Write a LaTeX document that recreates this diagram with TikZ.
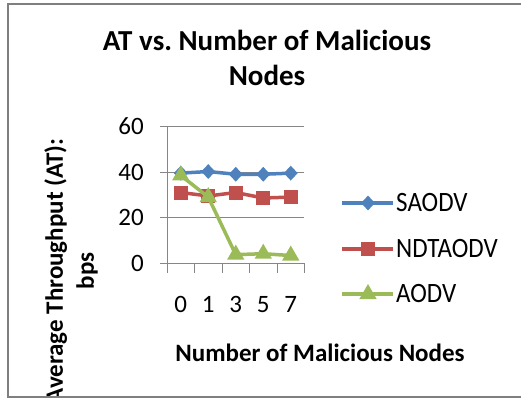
\documentclass[tikz,border=0pt]{standalone}
\usepackage{fontspec}
\setmainfont{Carlito}
\usetikzlibrary{shapes.geometric}
\definecolor{sblue}{HTML}{4F81BD}
\definecolor{nred}{HTML}{C0504D}
\definecolor{agreen}{HTML}{9BBB59}
\definecolor{gridgray}{HTML}{868686}
\definecolor{framegray}{HTML}{7F7F7F}
\frenchspacing
\begin{document}
\begin{tikzpicture}[x=1pt,y=-1pt,
  gridline/.style={draw=gridgray,line width=1pt},
  seriesline/.style={line width=3.5pt,line join=round},
  dmark/.style={diamond,fill=sblue,inner sep=0pt,minimum width=14pt,minimum height=15pt},
  smark/.style={rectangle,fill=nred,inner sep=0pt,minimum size=14pt},
  tmark/.style={regular polygon,regular polygon sides=3,fill=agreen,inner sep=0pt,minimum size=20pt},
  ticklbl/.style={font=\fontsize{25}{30}\selectfont,inner sep=0pt},
  titlefont/.style={font=\bfseries\fontsize{29}{35}\selectfont},
  axtitle/.style={font=\bfseries\fontsize{25}{31}\selectfont},
  legtext/.style={font=\fontsize{25}{30}\selectfont,inner sep=0pt,anchor=west,yscale=1.12}]
\useasboundingbox (0,0) rectangle (521,399);
\begin{scope}
\clip (8,4) rectangle (521,397);
% title
\node[titlefont,align=center] (title) at (267,57.5) {AT vs. Number of Malicious\\Nodes};
% gridlines and axes
\coordinate (g60l) at (160,126.3); \coordinate (g60r) at (304,126.3);
\coordinate (g40l) at (160,172.0); \coordinate (g40r) at (304,172.0);
\coordinate (g20l) at (160,217.6); \coordinate (g20r) at (304,217.6);
\coordinate (g0l) at (160,263.3); \coordinate (g0r) at (304,263.3);
\draw[gridline] (g60l) -- (g60r);
\draw[gridline] (g40l) -- (g40r);
\draw[gridline] (g20l) -- (g20r);
\draw[gridline] (g0l) -- (g0r);
\coordinate (axtop) at (167,126.3); \coordinate (axbot) at (167,263.3);
\draw[gridline] (axtop) -- (axbot);
\foreach \i/\x in {0/167,1/194.5,2/222,3/249.5,4/277,5/304} {
  \coordinate (xt\i a) at (\x,263.3); \coordinate (xt\i b) at (\x,273);
  \draw[gridline] (xt\i a) -- (xt\i b);
}
% tick labels
\node[ticklbl,anchor=east] (y60) at (144,126.3) {60};
\node[ticklbl,anchor=east] (y40) at (144,172.0) {40};
\node[ticklbl,anchor=east] (y20) at (144,217.6) {20};
\node[ticklbl,anchor=east] (y0) at (144,263.3) {0};
\node[ticklbl] (x0) at (180.75,304.5) {0};
\node[ticklbl] (x1) at (208.25,304.5) {1};
\node[ticklbl] (x3) at (235.75,304.5) {3};
\node[ticklbl] (x5) at (263.25,304.5) {5};
\node[ticklbl] (x7) at (290.75,304.5) {7};
% axis titles
\node[axtitle] (xtitle) at (320,353) {Number of Malicious Nodes};
\node[axtitle,align=center,rotate=90] (ytitle) at (71,271) {Average Throughput (AT):\\bps};
% data
\foreach \n/\x/\s/\r/\a in {1/180.75/39.5/31/38.5,2/208.25/40.2/29.5/29,3/235.75/39/31/3.8,4/263.25/39/28.6/4.2,5/290.75/39.5/29/3.4} {
  \coordinate (s\n) at (\x,{263.3-2.283*\s});
  \coordinate (r\n) at (\x,{263.3-2.283*\r});
  \coordinate (a\n) at (\x,{263.3-2.283*\a});
}
\draw[seriesline,sblue] (s1) -- (s2) -- (s3) -- (s4) -- (s5);
\foreach \n in {1,...,5} \node[dmark] (sm\n) at (s\n) {};
\draw[seriesline,nred] (r1) -- (r2) -- (r3) -- (r4) -- (r5);
\foreach \n in {1,...,5} \node[smark] (rm\n) at (r\n) {};
\draw[seriesline,agreen] (a1) -- (a2) -- (a3) -- (a4) -- (a5);
\foreach \n in {1,...,5} \node[tmark] (am\n) at (a\n) {};
% legend
\coordinate (l1a) at (342,203); \coordinate (l1b) at (393,203);
\coordinate (l2a) at (342,249); \coordinate (l2b) at (393,249);
\coordinate (l3a) at (342,294); \coordinate (l3b) at (393,294);
\draw[seriesline,sblue] (l1a) -- (l1b);
\node[dmark] (lm1) at (368,203) {};
\draw[seriesline,nred] (l2a) -- (l2b);
\node[smark] (lm2) at (368,249) {};
\draw[seriesline,agreen] (l3a) -- (l3b);
\node[tmark] (lm3) at (368,294) {};
\node[legtext] (lt1) at (396,203) {SAODV};
\node[legtext] (lt2) at (396,249) {NDTAODV};
\node[legtext] (lt3) at (396,294) {AODV};
\end{scope}
% chart frame
\coordinate (fr1) at (521,4); \coordinate (fr2) at (8,4);
\coordinate (fr3) at (8,397); \coordinate (fr4) at (521,397);
\draw[framegray,line width=2pt] (fr1) -- (fr2) -- (fr3) -- (fr4);
\end{tikzpicture}
\end{document}
